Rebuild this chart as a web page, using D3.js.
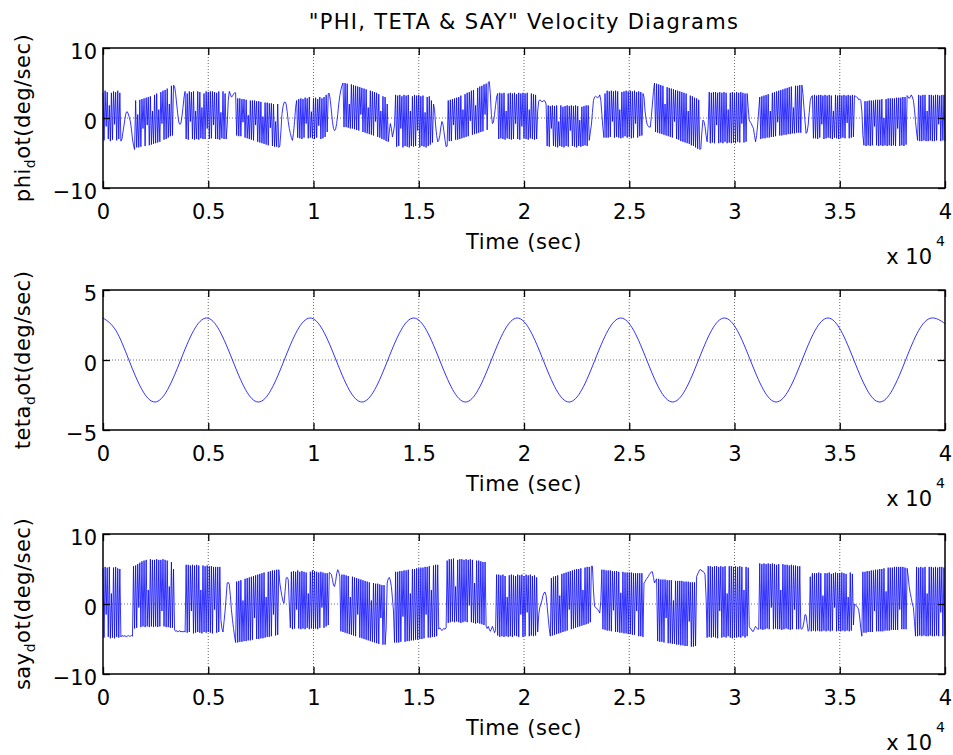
<!DOCTYPE html>
<html>
<head>
<meta charset="utf-8">
<script src="https://cdn.jsdelivr.net/npm/d3@7"></script>
<style>
body{margin:0;background:#fff;}
svg text{font-family:"DejaVu Sans",sans-serif;fill:#000;}
.grid{stroke:#444;stroke-width:0.8;stroke-dasharray:1,2;}
</style>
</head>
<body>
<script>
// time axis ticks (seconds) and the labels MATLAB printed (x 10^4)
var xTicks=[0,5000,10000,15000,20000,25000,30000,35000,40000];
var xTickLabels=["0","0.5","1","1.5","2","2.5","3","3.5","4"];
var phiTicks=[-10,0,10];
var tetaTicks=[-5,0,5];
var sayTicks=[-10,0,10];

// phi_dot and say_dot are sampled every 50 sec, 0..40000
var sampleStep=50;
var phiDot=[
3.6,-3.2,3.9,-1.2,3.7,-3.0,1.8,-3.3,3.6,-3.1,
3.8,-0.9,3.7,-3.2,3.9,-3.0,3.6,-3.3,-3.0,-2.0,
-1.0,0.0,0.8,0.9,0.6,0.1,-0.5,-1.6,-3.0,-3.9,
-4.5,2.5,-4.2,0.5,-4.2,2.6,-4.1,2.7,-1.5,2.8,
-4.0,2.9,-1.0,3.0,-3.9,3.1,-3.8,1.0,-3.7,3.3,
-3.6,3.5,-3.5,1.2,-3.4,3.7,-0.8,3.9,-3.1,4.0,
-3.0,4.2,-2.8,2.0,-2.6,4.6,-2.5,4.7,4.5,3.5,
2.0,0.6,-0.6,-0.9,-0.8,0.2,1.5,3.0,3.8,-3.0,
3.5,-3.1,3.8,-0.5,3.7,-3.0,3.8,-3.1,1.0,-3.0,
3.8,-3.1,3.7,-2.9,1.5,-3.0,3.5,-3.0,3.8,-1.5,
3.7,-3.0,3.8,-2.9,3.8,-1.0,3.7,-3.0,3.6,-3.0,
3.8,-3.1,0.8,-2.9,3.8,-3.0,3.5,-3.0,-1.0,2.5,
3.8,3.4,3.0,3.1,3.4,3.6,3.6,-2.5,2.8,-2.6,
2.8,-2.6,2.7,-0.6,2.7,-2.8,2.6,-2.9,0.4,-3.0,
2.5,-3.1,2.5,-3.2,2.5,-1.0,2.4,-3.4,2.4,-3.5,
2.3,-3.6,0.2,-3.7,2.2,-3.8,2.2,-3.9,2.1,-1.4,
2.1,-4.0,2.0,-4.1,-0.5,-4.1,2.0,-4.2,-4.0,-2.0,
0.5,1.6,2.2,2.3,2.0,0.9,-0.5,-1.5,-2.2,-2.8,
-3.2,-2.2,-0.5,1.5,2.5,-2.8,2.7,-2.9,2.8,-3.0,
2.7,-2.8,2.9,-0.8,2.8,-2.9,3.0,-2.8,0.9,-2.9,
2.8,-3.0,2.9,-2.8,2.7,-1.1,3.0,-3.0,2.8,-2.9,
3.0,-2.7,3.3,-2.0,3.5,3.5,2.5,1.0,-0.5,-1.5,
-1.8,-1.6,-0.8,0.5,2.0,3.2,4.0,4.6,5.0,-1.3,
5.0,-1.3,4.9,-1.4,2.0,-1.5,4.8,-1.5,4.7,-1.6,
4.6,-1.7,4.5,-1.8,4.4,0.5,4.3,-2.0,4.2,-2.1,
4.1,-2.2,1.5,-2.3,3.9,-2.4,3.8,-2.5,3.7,-0.5,
3.6,-2.7,3.4,-2.8,1.0,-3.0,3.1,-3.1,3.0,-3.3,
2.0,-3.4,-2.0,-0.8,-1.5,-2.7,-2.0,-1.0,3.3,-4.1,
3.2,-4.0,3.3,-1.5,3.1,-4.2,3.3,-4.0,3.2,-4.1,
3.3,-4.2,1.0,-4.0,3.1,-4.1,3.3,-4.0,3.2,-1.8,
3.3,-4.2,3.1,-4.0,3.2,-4.1,0.8,-4.2,3.0,-4.0,
3.1,-3.8,2.5,-3.5,2.0,1.2,-1.0,-2.5,-3.4,-3.2,
-2.5,-1.3,-0.5,-0.9,-2.0,-3.2,-4.1,-4.0,2.5,-3.3,
2.6,-3.3,2.7,-1.0,2.8,-3.1,2.9,-3.1,3.0,-3.0,
3.2,-2.9,1.2,-2.8,3.4,-2.7,3.6,-2.6,3.7,-0.4,
3.9,-2.4,4.0,-2.3,1.8,-2.2,4.3,-2.1,4.5,-2.0,
4.6,-1.9,4.8,0.5,4.9,-1.7,5.1,5.2,3.5,0.5,
-0.8,-0.6,0.5,1.8,3.0,3.5,-3.0,3.6,-2.9,3.5,
-3.0,3.6,-3.1,1.0,-2.9,3.5,-3.0,3.6,-3.1,3.5,
-3.0,3.6,-0.8,3.4,-3.0,3.6,-3.1,3.5,-1.2,3.6,
-2.9,3.5,-3.0,3.6,-3.1,1.2,-2.9,3.5,-3.0,3.4,
-3.1,3.3,-3.0,1.0,2.4,2.6,2.5,2.3,2.4,2.5,
2.4,2.0,-4.0,1.8,-4.1,1.7,-1.5,1.8,-4.0,1.7,
-4.1,1.8,-4.2,-0.5,-4.0,1.8,-4.1,1.6,-4.2,1.7,
-4.0,1.8,-4.1,1.7,-1.8,1.8,-4.0,1.7,-4.1,1.8,
-4.2,1.7,-4.0,-0.3,-4.1,1.6,-4.0,1.7,-3.9,1.8,
-4.0,1.8,-3.2,-2.0,-1.0,0.8,2.5,3.0,3.1,3.0,
2.9,3.0,3.3,2.5,0.5,-1.5,-2.8,3.5,-2.8,3.9,
-2.8,3.8,-2.7,3.9,-0.5,3.8,-2.8,3.9,-2.7,3.8,
-2.8,1.2,-2.9,3.7,-2.8,3.8,-2.6,3.9,-2.8,3.8,
-2.7,3.9,-2.9,3.8,-2.8,3.9,-0.8,3.7,-2.8,3.8,
-2.6,3.7,-2.5,3.5,3.0,1.0,-0.2,-0.9,-1.2,-1.3,
-1.3,0.2,2.0,3.8,5.0,-2.0,4.9,-2.1,4.8,-2.2,
4.7,-2.3,4.6,-2.4,2.0,-2.5,4.4,-2.6,4.3,-2.7,
4.2,-2.8,4.1,-0.5,4.0,-3.0,3.9,-3.1,3.8,-3.3,
3.7,-3.4,3.6,-3.5,3.5,-3.6,1.0,-3.7,3.2,-3.9,
3.1,-4.0,2.9,-4.2,2.8,-4.4,2.6,-4.5,-4.4,-2.0,
-0.3,-0.5,-1.2,-2.5,-3.4,-1.0,3.7,-3.6,3.6,-3.5,
3.7,-3.6,3.7,-1.0,3.6,-3.6,3.7,-3.5,3.6,-3.6,
3.7,-3.4,3.6,-3.6,1.2,-3.5,3.6,-3.6,3.7,-3.5,
3.6,-3.6,3.7,-3.4,3.6,-3.5,3.7,-0.8,3.6,-3.5,
3.5,-3.4,3.5,1.5,-0.3,-0.6,-0.8,-1.2,-1.5,-2.5,
-3.4,-2.5,-1.0,1.0,3.0,-3.0,3.1,-2.9,3.2,-2.9,
3.3,-2.8,3.4,-2.8,1.0,-2.7,3.6,-2.7,3.7,-2.6,
3.8,-0.6,3.9,-2.5,4.0,-2.5,4.1,-2.4,4.2,-2.4,
4.3,-2.3,4.4,-2.3,4.5,-2.2,1.5,-2.2,4.6,-2.1,
4.6,-2.1,4.7,-2.1,4.7,3.5,1.5,-0.5,-2.2,-2.0,
-1.0,0.8,2.5,3.0,3.2,-2.9,3.3,-2.9,3.2,-3.0,
3.3,-2.8,3.3,-0.9,3.2,-3.0,3.3,-2.9,3.2,-2.8,
3.3,-2.9,3.2,-3.0,1.0,-2.8,3.3,-2.9,3.2,-3.0,
3.3,-2.9,3.2,-2.8,3.3,-2.9,3.2,-0.7,3.3,-2.9,
3.2,-2.8,3.3,-2.7,3.2,3.1,3.0,2.9,2.6,2.7,
2.5,1.0,-2.5,-3.9,2.4,-4.0,2.4,-3.9,2.5,-4.0,
2.5,-3.9,2.5,-1.2,2.6,-3.9,2.6,-4.0,2.6,-3.9,
2.7,-4.0,0.0,-3.9,2.7,-4.0,2.8,-3.9,2.8,-4.0,
2.8,-3.9,2.8,-4.0,2.9,-1.5,2.9,-4.0,2.9,-3.9,
3.0,-4.0,3.0,-3.8,3.2,3.0,2.8,3.0,3.3,3.0,
2.5,1.2,-0.5,-2.0,-3.2,3.3,-3.3,3.2,-3.3,3.3,
-3.2,3.3,-3.3,1.0,-3.3,3.3,-3.2,3.3,-3.3,3.2,
-3.3,3.3,-3.2,3.3,-0.9,3.2,-3.3,3.3,-3.2,3.3,
-3.3];

var sayDot=[
5.1,-4.8,5.3,-1.5,5.2,-4.7,5.3,-4.9,1.5,-4.8,
5.2,-4.9,5.3,-4.7,5.1,-4.8,5.0,-4.7,-4.5,-4.6,
-4.6,-4.5,-4.7,-4.6,-4.5,-4.6,-4.6,-4.5,-4.6,5.4,
-3.5,5.5,-3.4,5.7,-0.5,5.9,-3.3,6.1,-3.2,6.2,
-3.3,6.3,-3.2,2.0,-3.3,6.4,-3.2,6.3,-3.3,6.3,
-3.2,6.4,-3.3,6.3,-3.2,6.3,-1.0,6.4,-3.2,6.3,
-3.3,6.2,-3.3,2.5,-3.4,6.0,-3.4,5.0,-3.7,-3.9,
-3.8,-4.0,-3.9,-3.8,-4.0,-3.9,-4.0,-3.9,-4.0,5.6,
-4.1,5.6,-4.0,5.5,-1.0,5.6,-4.2,5.5,-4.1,5.6,
-4.0,5.5,-4.1,2.0,-4.2,5.5,-4.0,5.4,-4.1,5.5,
-4.0,5.4,-4.1,5.4,-4.2,5.3,-0.8,5.3,-4.1,5.3,
-4.0,5.3,-2.2,-3.5,-4.0,-2.5,-1.0,1.0,3.0,3.1,
2.8,1.2,-0.8,-2.2,-3.5,-4.6,-5.5,3.2,-5.5,3.3,
-5.4,3.4,-5.4,0.5,-5.3,3.6,-5.3,3.7,-5.2,3.8,
-5.2,3.9,-5.1,4.0,-2.0,4.1,-5.0,4.2,-5.0,4.3,
-4.9,4.4,-4.9,4.5,-4.8,1.0,-4.7,4.6,-4.7,4.7,
-4.6,4.8,-1.5,4.8,-4.5,4.9,-4.4,4.9,3.0,2.0,
1.1,0.4,0.1,1.8,3.7,3.8,3.5,0.0,-3.4,4.6,
-3.6,4.7,-3.5,4.6,-0.8,4.8,-3.5,4.6,-3.6,4.7,
-3.5,4.6,-3.6,4.5,-3.4,1.5,-3.6,4.6,-3.5,4.8,
-3.6,4.7,-3.5,4.6,-3.6,4.5,-3.4,4.6,-0.5,4.5,
-3.4,4.4,-3.2,4.4,-3.0,4.5,4.4,4.2,3.5,2.7,
2.5,3.2,4.3,4.9,4.6,3.9,-3.9,4.2,-4.0,4.2,
-4.1,4.1,-4.2,4.0,-4.3,1.0,-4.4,3.9,-4.5,3.8,
-4.6,3.7,-1.5,3.6,-4.8,3.5,-4.9,3.4,-5.0,3.3,
-5.1,3.2,-5.2,3.1,-5.3,0.5,-5.4,3.0,-5.5,2.9,
-5.6,2.9,-5.7,2.8,-2.0,2.7,-5.8,2.7,-5.8,-3.6,
3.0,3.6,3.8,3.4,2.5,0.8,-1.0,-5.5,4.6,-5.5,
4.6,-5.5,4.7,-5.4,4.7,-1.8,4.8,-5.4,4.8,-5.3,
4.9,-5.3,1.5,-5.2,5.0,-5.2,5.0,-5.1,5.1,-5.1,
5.1,-5.0,5.2,-5.0,5.2,-4.9,5.3,-1.5,5.3,-4.8,
5.4,-4.8,2.0,-4.7,5.5,-4.7,5.6,-4.6,5.6,-3.6,
-3.4,-3.6,-3.8,-3.6,-3.5,-3.6,-3.4,6.2,-2.7,6.4,
-2.6,6.4,-2.5,6.5,-2.6,2.5,-2.5,6.3,-2.6,6.4,
-2.7,6.4,-2.6,6.3,-2.5,6.4,-2.6,6.3,-0.2,6.4,
-2.6,6.3,-2.7,3.0,-2.8,6.2,-2.7,6.2,-2.8,6.1,
-2.9,6.0,-3.0,6.0,-3.2,-3.5,-3.2,-3.6,-3.9,-3.6,
-3.2,-3.6,-4.1,-3.8,4.2,-4.5,4.2,-4.7,4.1,-4.6,
4.2,-4.7,4.0,-4.6,1.0,-4.7,4.1,-4.6,4.2,-4.7,
4.1,-4.5,4.0,-4.6,4.2,-4.7,4.1,-1.5,4.2,-4.7,
4.0,-4.6,4.2,-1.2,4.1,-4.6,4.2,-4.5,4.0,-4.6,
4.1,-4.5,3.8,-4.0,-1.5,-0.5,0.0,0.5,1.2,1.6,
1.7,1.2,-0.3,-2.0,-3.5,-4.6,3.7,-4.5,3.9,-4.4,
4.0,-4.3,4.1,-4.2,1.2,-4.1,4.3,-4.0,4.4,-3.9,
4.5,-3.8,4.6,-0.8,4.7,-3.6,4.8,-3.5,4.9,-3.4,
5.0,-3.3,5.0,-3.2,5.1,-3.1,2.0,-3.0,5.2,-2.9,
5.3,-2.8,5.3,-2.6,5.4,5.4,2.0,-0.3,-0.5,-0.6,
-0.8,-1.0,-1.3,0.5,4.9,-3.6,4.9,-3.7,4.8,-3.8,
4.8,-3.8,4.8,-3.9,4.7,-0.9,4.7,-4.0,4.7,-4.0,
4.6,-4.1,1.6,-4.1,4.6,-4.2,4.5,-4.2,4.5,-4.3,
4.5,-4.3,4.5,-4.4,4.4,-4.4,4.4,-1.0,4.4,-4.6,
4.4,-4.6,4.4,-4.7,3.0,3.2,3.5,3.7,3.9,4.2,
4.4,4.6,4.6,3.8,3.0,3.3,3.6,-5.3,3.6,-5.4,
3.5,-5.4,3.5,-5.5,3.5,-2.0,3.4,-5.6,3.4,-5.6,
3.4,-5.7,0.5,-5.7,3.3,-5.8,3.3,-5.8,3.3,-5.9,
3.3,-5.9,3.2,-6.0,3.2,-6.0,3.2,-2.5,3.1,-6.1,
3.1,-6.1,3.1,-6.0,3.9,4.3,4.6,4.9,4.9,4.7,
4.7,4.5,4.2,1.0,-4.8,5.4,-4.7,5.4,-4.8,5.3,
-4.7,5.4,-4.8,5.4,-4.9,5.3,-1.0,5.4,-4.8,5.3,
-4.7,5.4,-4.8,1.5,-4.6,5.4,-4.8,5.4,-4.9,5.3,
-4.8,5.4,-4.8,5.3,-4.7,5.4,-4.8,5.3,-4.6,2.0,
-4.8,5.3,-4.6,5.2,-3.2,-3.5,-3.6,-3.9,-3.9,-3.5,
-3.2,-3.4,-3.6,-3.6,5.8,-3.6,5.7,-3.7,5.8,-3.6,
5.7,-3.5,5.8,-3.6,5.7,-0.5,5.8,-3.6,5.7,-3.5,
5.6,-3.6,5.7,-3.6,2.0,-3.7,5.7,-3.6,5.6,-3.5,
5.6,-3.6,5.5,-3.7,5.6,-3.6,5.5,-0.8,5.5,-3.6,
5.4,-3.6,5.4,-3.5,-3.6,-3.3,-2.5,-1.5,-1.6,-2.8,
-3.9,-3.7,3.9,-3.9,4.4,-3.8,4.4,-3.9,4.4,-3.8,
4.5,-3.9,4.4,-3.9,1.2,-3.8,4.4,-3.9,4.4,-3.8,
4.5,-3.9,4.3,-3.8,4.4,-0.5,4.5,-3.9,4.4,-3.8,
4.4,-3.9,4.5,-3.8,4.4,-3.9,4.3,-3.8,1.0,-3.9,
4.5,-3.8,4.3,-3.0,0.0,-0.1,-0.3,-0.5,-0.8,-2.0,
-3.5,-4.6,4.6,-4.1,4.6,-4.1,4.7,-4.0,4.7,-4.0,
4.8,-4.0,4.8,-1.0,4.9,-3.9,4.9,-3.9,5.0,-3.9,
5.0,-3.9,5.1,-3.8,1.8,-3.8,5.2,-3.8,5.2,-3.7,
5.2,-3.7,5.3,-3.7,5.3,-3.7,5.3,-0.8,5.3,-3.6,
5.3,-3.6,5.2,-3.6,5.1,4.0,2.5,1.5,0.8,0.0,
-0.5,-2.5,-4.6,5.3,-4.6,5.2,-4.5,5.3,-4.6,5.2,
-4.5,5.3,-4.6,1.5,-4.6,5.3,-4.5,5.3,-4.6,5.2,
-4.6,5.3,-4.5,5.2,-4.6,5.3,-1.2,5.3,-4.6,5.2,
-4.5];

// teta_dot read at peaks, troughs, zero crossings and the points between them
var tetaTime=[
0,615,1230,1845,2460,3075,3690,4305,
4920,5535,6150,6765,7380,7995,8610,9225,
9840,10455,11070,11685,12300,12915,13530,14145,
14760,15375,15990,16605,17220,17835,18450,19065,
19680,20295,20910,21525,22140,22755,23370,23985,
24600,25215,25830,26445,27060,27675,28290,28905,
29520,30135,30750,31365,31980,32595,33210,33825,
34440,35055,35670,36285,36900,37515,38130,38745,
39360,40000];
var tetaDot=[
3.0,2.1,0,-2.1,-3.0,-2.1,0,2.1,
3.0,2.1,0,-2.1,-3.0,-2.1,0,2.1,
3.0,2.1,0,-2.1,-3.0,-2.1,0,2.1,
3.0,2.1,0,-2.1,-3.0,-2.1,0,2.1,
3.0,2.1,0,-2.1,-3.0,-2.1,0,2.1,
3.0,2.1,0,-2.1,-3.0,-2.1,0,2.1,
3.0,2.1,0,-2.1,-3.0,-2.1,0,2.1,
3.0,2.1,0,-2.1,-3.0,-2.1,0,2.1,
3.0,2.6];

var width=953,height=755,plotH=140;
var fs=21;
var svg=d3.select("body").append("svg").attr("width",width).attr("height",height);
svg.append("rect").attr("width",width).attr("height",height).attr("fill","#fff");

var x=d3.scaleLinear().domain([0,40000]).range([103,945]);

var phiTime=phiDot.map(function(d,i){return i*sampleStep;});
var sayTime=sayDot.map(function(d,i){return i*sampleStep;});

var panels=[
	{top:48,domain:[-10,10],ticks:phiTicks,name:"phi",times:phiTime,values:phiDot,curve:d3.curveLinear},
	{top:290,domain:[-5,5],ticks:tetaTicks,name:"teta",times:tetaTime,values:tetaDot,curve:d3.curveNatural},
	{top:534,domain:[-10,10],ticks:sayTicks,name:"say",times:sayTime,values:sayDot,curve:d3.curveLinear}
];

svg.append("text").attr("x",524).attr("y",29).attr("text-anchor","middle").attr("font-size",fs).style("letter-spacing","1.3px")
	.text('"PHI, TETA & SAY" Velocity Diagrams');

panels.forEach(function(p){
	var bottom=p.top+plotH;
	var y=d3.scaleLinear().domain(p.domain).range([bottom,p.top]);
	var g=svg.append("g");

	g.selectAll(".vgrid").data(xTicks.slice(1,-1)).enter().append("line").attr("class","grid")
		.attr("x1",function(d){return x(d);}).attr("x2",function(d){return x(d);}).attr("y1",p.top).attr("y2",bottom);
	g.append("line").attr("class","grid").attr("x1",x(0)).attr("x2",x(40000)).attr("y1",y(0)).attr("y2",y(0));

	g.append("path").datum(p.values).attr("fill","none").attr("stroke","#0000ff").attr("stroke-width",0.8)
		.attr("d",d3.line().curve(p.curve).x(function(d,i){return x(p.times[i]);}).y(function(d){return y(d);}));

	var ax=g.append("g").attr("transform","translate(0,"+bottom+")")
		.call(d3.axisBottom(x).tickValues(xTicks).tickSize(-7).tickPadding(16).tickFormat(function(d,i){return xTickLabels[i];}));
	var axt=g.append("g").attr("transform","translate(0,"+p.top+")")
		.call(d3.axisTop(x).tickValues(xTicks).tickSize(-7).tickFormat(""));
	var ay=g.append("g").attr("transform","translate(103,0)")
		.call(d3.axisLeft(y).tickValues(p.ticks).tickSize(-7).tickPadding(6));
	var ayr=g.append("g").attr("transform","translate(945,0)")
		.call(d3.axisRight(y).tickValues(p.ticks).tickSize(-7).tickFormat(""));
	[ax,axt,ay,ayr].forEach(function(a){
		a.select(".domain").remove();
		a.attr("font-size",fs).attr("font-family",null);
		a.selectAll("line").attr("stroke","#000").attr("stroke-width",1.3);
	});
	ay.selectAll("text").attr("dy","0.48em");

	g.append("rect").attr("x",103).attr("y",p.top).attr("width",842).attr("height",plotH)
		.attr("fill","none").attr("stroke","#000").attr("stroke-width",1.5);

	g.append("text").attr("x",524).attr("y",bottom+61).attr("text-anchor","middle").attr("font-size",fs)
		.style("letter-spacing","0.6px").text("Time (sec)");

	var ex=g.append("text").attr("x",945).attr("y",bottom+76).attr("text-anchor","end").attr("font-size",fs);
	ex.append("tspan").text("x 10");
	ex.append("tspan").attr("dx",4).attr("dy",-18).attr("font-size",14).text("4");

	var lab=g.append("text").attr("transform","translate(30,"+(p.top+plotH/2)+") rotate(-90)")
		.attr("text-anchor","middle").attr("font-size",fs).style("letter-spacing","0.5px");
	lab.append("tspan").text(p.name);
	lab.append("tspan").attr("dy",5).attr("font-size",14).text("d");
	lab.append("tspan").attr("dy",-5).text("ot(deg/sec)");
});
</script>
</body>
</html>
